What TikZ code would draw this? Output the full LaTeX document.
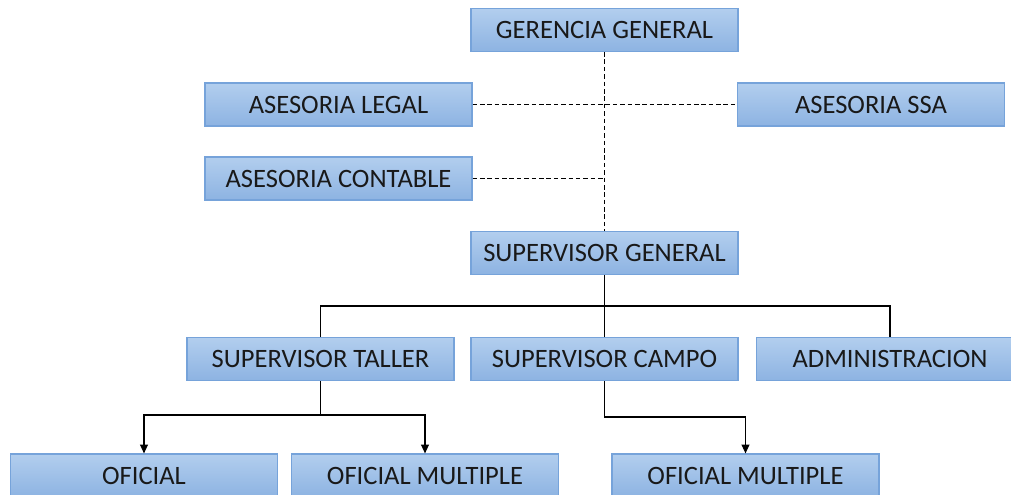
\documentclass[tikz,border=0pt]{standalone}
\usepackage{fontspec}
\setmainfont{Carlito}
\usetikzlibrary{arrows.meta}
\definecolor{cajaarriba}{RGB}{178,206,238}
\definecolor{cajaabajo}{RGB}{141,179,226}
\definecolor{cajaborde}{RGB}{118,163,218}
\definecolor{texto}{RGB}{25,25,25}
\begin{document}
\begin{tikzpicture}[x=0.02cm,y=-0.02cm,
  caja/.style={draw=cajaborde, line width=0.7pt, top color=cajaarriba, bottom color=cajaabajo,
    minimum width=5.34cm, minimum height=0.86cm, inner sep=0pt, text=texto, font=\fontsize{15.1}{17}\selectfont},
  linea/.style={line width=0.6pt},
  punteada/.style={line width=0.6pt, dash pattern=on 2.6pt off 1.6pt},
  flecha/.style={line width=0.6pt, -{Triangle[length=5pt,width=4.5pt]}}]
\useasboundingbox (0,0) rectangle (1011,494);
\node[caja] (gerencia) at (604.5,30) {GERENCIA GENERAL};
\node[caja] (legal) at (338.5,104.5) {ASESORIA LEGAL};
\node[caja] (ssa) at (871,104.5) {ASESORIA SSA};
\node[caja] (contable) at (338.5,178.5) {ASESORIA CONTABLE};
\node[caja] (supgeneral) at (604.5,253) {SUPERVISOR GENERAL};
\node[caja] (taller) at (320.5,359) {SUPERVISOR TALLER};
\node[caja] (campo) at (604.5,359) {SUPERVISOR CAMPO};
\node[caja] (admin) at (890,359) {ADMINISTRACION};
\node[caja] (oficial) at (144,475.5) {OFICIAL};
\node[caja] (multiple) at (425,475.5) {OFICIAL MULTIPLE};
\node[caja] (multiplecampo) at (745.5,475.5) {OFICIAL MULTIPLE};
% lineas de asesoria
\draw[punteada] (gerencia.south) -- (supgeneral.north);
\draw[punteada] (legal.east) -- (ssa.west);
\draw[punteada] (contable.east) -- (contable.east -| gerencia.south);
% supervisores
\coordinate (barra) at (604.5,306);
\draw[linea] (supgeneral.south) -- (barra) -- (campo.north);
\draw[linea] (taller.north) |- (barra) -| (admin.north);
% oficiales
\coordinate (ramat) at (320.5,415);
\coordinate (ramac) at (604.5,417);
\draw[linea] (taller.south) -- (ramat);
\draw[flecha] (ramat) -| (oficial.north);
\draw[flecha] (ramat) -| (multiple.north);
\draw[flecha] (campo.south) -- (ramac) -| (multiplecampo.north);
\end{tikzpicture}
\end{document}
